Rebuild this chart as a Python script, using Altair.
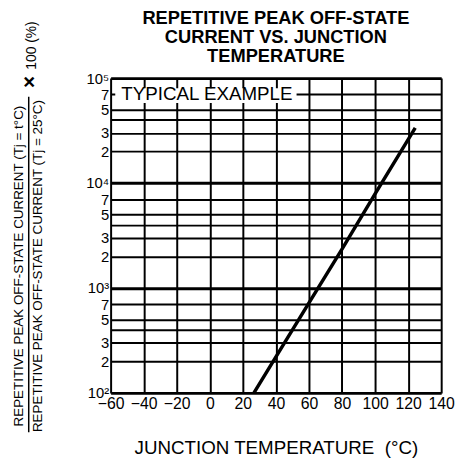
import altair as alt
import pandas as pd

# ---- data ----
temps = [26.7, 40, 60, 80, 100, 124.3]
ratio = [100, 220, 720, 2350, 7900, 33500]

x_ticks = [-60, -40, -20, 0, 20, 40, 60, 80, 100, 120, 140]
y_grid = [100, 200, 300, 400, 500, 700,
          1000, 2000, 3000, 4000, 5000, 7000,
          10000, 20000, 30000, 40000, 50000, 70000, 100000]
y_labels = ["10²", "2", "3", "", "5", "7",
            "10³", "2", "3", "", "5", "7",
            "10⁴", "2", "3", "", "5", "7", "10⁵"]
decades = [100, 1000, 10000, 100000]

title_lines = ["REPETITIVE PEAK OFF-STATE", "CURRENT VS. JUNCTION", "TEMPERATURE"]
x_title = "JUNCTION TEMPERATURE\u00a0 (°C)"
y_numerator = "REPETITIVE PEAK OFF-STATE CURRENT (Tj = t°C)"
y_denominator = "REPETITIVE PEAK OFF-STATE CURRENT (Tj = 25°C)"
times_sign = "×"
percent_text = "100 (%)"
note_text = "TYPICAL EXAMPLE"
note_T = [-53.5]
note_R = [70000]
box_T = [-57.2]
box_T2 = [52.5]
box_R = [58000]
box_R2 = [80000]

FONT = "Liberation Sans, Arial, Helvetica, sans-serif"

curve = pd.DataFrame({"T": temps, "R": ratio})
note_df = pd.DataFrame({"T": note_T, "R": note_R, "label": [note_text]})
box_df = pd.DataFrame({"T": box_T, "T2": box_T2, "R": box_R, "R2": box_R2})
one = pd.DataFrame({"k": [0]})

label_expr = " : ".join(f"datum.value == {v} ? '{l}'" for v, l in zip(y_grid, y_labels)) + " : ''"
decade_test = "indexof([" + ",".join(str(d) for d in decades) + "], datum.value) >= 0"

x_enc = alt.X(
    "T:Q",
    scale=alt.Scale(domain=[x_ticks[0], x_ticks[-1]], nice=False, zero=False),
    axis=alt.Axis(
        values=x_ticks,
        labelExpr="datum.value < 0 ? '\u2212' + abs(datum.value) : '' + datum.value",
        labelFont=FONT, labelFontSize=16, labelColor="black", labelPadding=3,
        labelOverlap=False, labelFlush=False,
        ticks=False, domain=False,
        grid=True, gridColor="black", gridWidth=2, gridOpacity=1,
        title=x_title, titleFont=FONT, titleFontSize=19, titleFontWeight="normal",
        titleColor="black", titlePadding=27,
    ),
)
y_enc = alt.Y(
    "R:Q",
    scale=alt.Scale(type="log", domain=[decades[0], decades[-1]], nice=False),
    axis=alt.Axis(
        values=y_grid,
        labelExpr=label_expr,
        labelFont=FONT, labelFontSize=15, labelColor="black", labelPadding=2,
        labelOverlap=False, labelFlush=False,
        ticks=False, domain=False,
        grid=True, gridColor="black", gridOpacity=1,
        gridWidth={"condition": {"test": decade_test, "value": 3}, "value": 2},
        title=None,
    ),
)

line = alt.Chart(curve).mark_line(color="black", strokeWidth=3.5, strokeCap="butt").encode(
    x=x_enc, y=y_enc
)

box = alt.Chart(box_df).mark_rect(color="white", opacity=1).encode(
    x=x_enc, x2="T2:Q", y=y_enc, y2="R2:Q"
)

note = alt.Chart(note_df).mark_text(
    align="left", baseline="middle", font=FONT, fontSize=19, color="black"
).encode(x=x_enc, y=y_enc, text="label:N")

# y-axis title drawn as a fraction
numer = alt.Chart(one).mark_text(
    angle=270, align="center", baseline="middle", font=FONT, fontSize=13.6, color="black"
).encode(x=alt.value(-93), y=alt.value(190.5), text=alt.value(y_numerator))

denom = alt.Chart(one).mark_text(
    angle=270, align="center", baseline="middle", font=FONT, fontSize=13.6, color="black"
).encode(x=alt.value(-74), y=alt.value(190.5), text=alt.value(y_denominator))

frac_bar = alt.Chart(one).mark_rule(color="black", strokeWidth=1.5).encode(
    x=alt.value(-83), y=alt.value(19), y2=alt.value(359)
)

times = alt.Chart(one).mark_text(
    angle=270, align="center", baseline="middle", font=FONT, fontSize=21,
    fontWeight="bold", color="black"
).encode(x=alt.value(-82), y=alt.value(4), text=alt.value(times_sign))

percent = alt.Chart(one).mark_text(
    angle=270, align="center", baseline="middle", font=FONT, fontSize=14, color="black"
).encode(x=alt.value(-80), y=alt.value(-33), text=alt.value(percent_text))

title = alt.Chart(one).mark_text(
    align="center", baseline="middle", font=FONT, fontSize=18.5, fontWeight="bold",
    lineHeight=19.5, color="black"
).encode(x=alt.value(167.5), y=alt.value(-61), text=alt.value(title_lines))

chart = alt.layer(box, line, note, numer, denom, frac_bar, times, percent, title).properties(
    width=335,
    height=319,
    autosize=alt.AutoSizeParams(type="none"),
    padding={"left": 104, "top": 68, "right": 14, "bottom": 68},
).configure_view(stroke="black", strokeWidth=3).configure(background="white")

chart.save("out.html", embed_options={"renderer": "svg", "actions": False})
